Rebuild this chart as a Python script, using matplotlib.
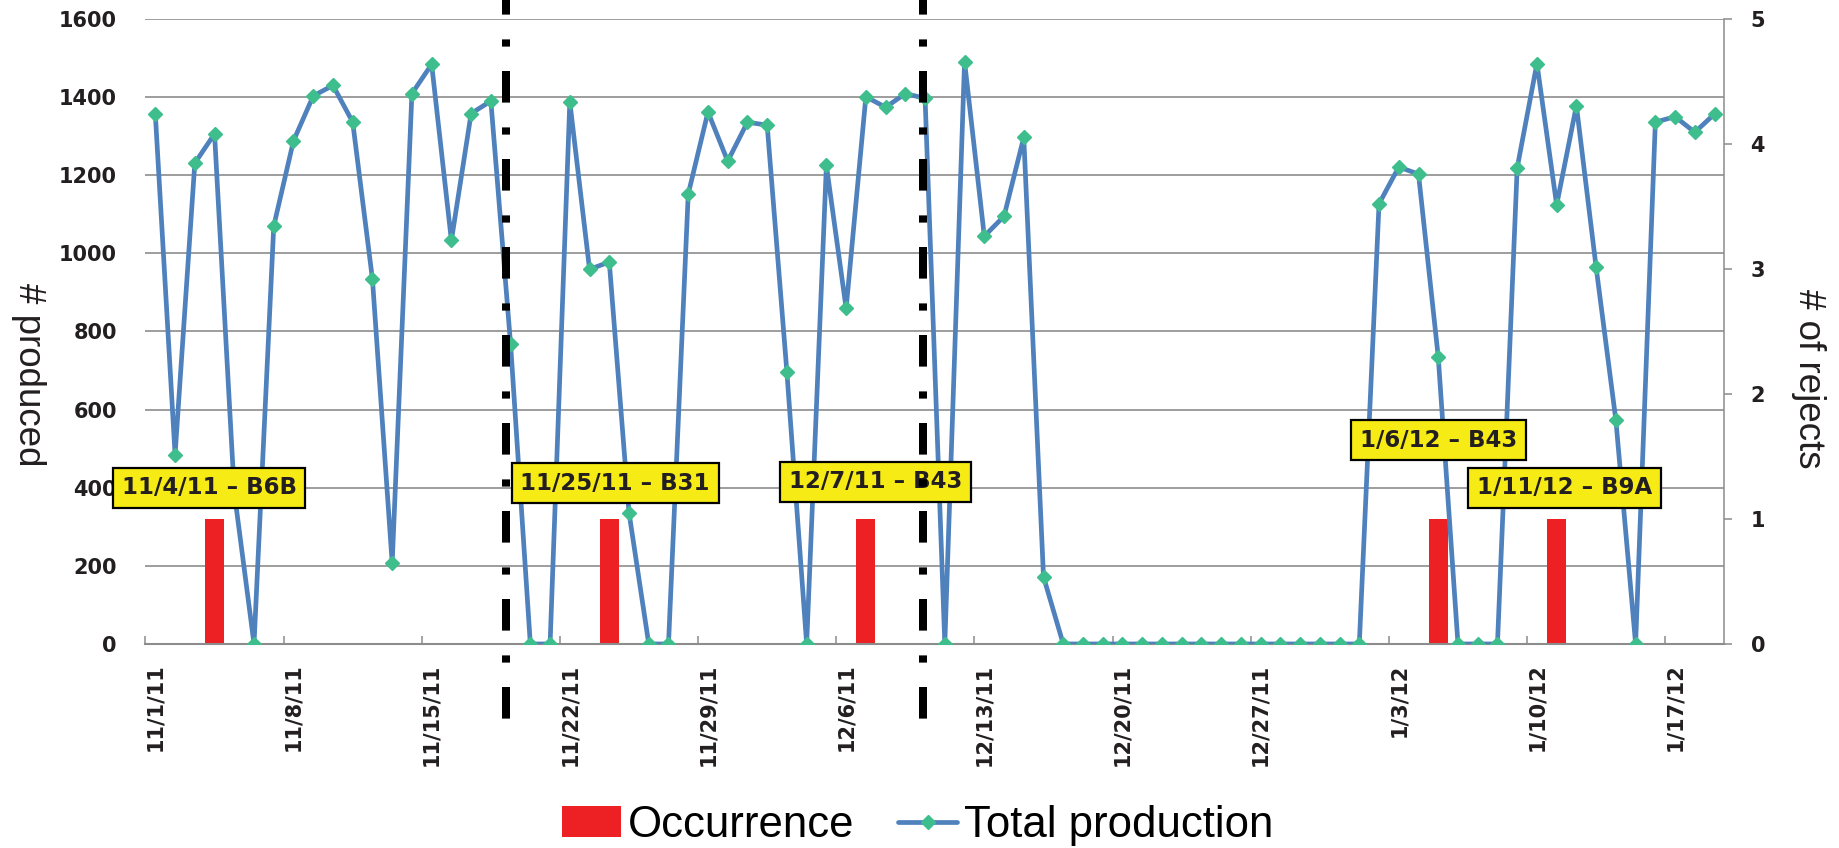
import numpy as np
import pandas as pd
import matplotlib
matplotlib.use("Agg")
import matplotlib.pyplot as plt
import matplotlib.transforms as mtransforms
from matplotlib.lines import Line2D
from matplotlib.patches import Patch

# Daily totals, 11/1/11 through 1/19/12
start_date = "2011-11-01"
total_production = [
    1356, 485, 1231, 1306, 388, 0, 1070, 1288, 1403, 1430,
    1336, 934, 207, 1409, 1484, 1033, 1358, 1390, 767, 0,
    0, 1388, 959, 978, 336, 0, 0, 1152, 1362, 1236,
    1336, 1328, 695, 0, 1225, 859, 1401, 1374, 1409, 1397,
    0, 1491, 1044, 1095, 1297, 172, 0, 0, 0, 0,
    0, 0, 0, 0, 0, 0, 0, 0, 0, 0,
    0, 0, 1127, 1221, 1203, 735, 0, 0, 0, 1219,
    1486, 1124, 1378, 964, 573, 0, 1336, 1350, 1310, 1357,
]

# Reject occurrences
occurrence_dates = ["2011-11-04", "2011-11-24", "2011-12-07", "2012-01-05", "2012-01-11"]
occurrence_counts = [1, 1, 1, 1, 1]

# Callouts: text, day offset from start, height on the production axis
callout_text = ["11/4/11 \u2013 B6B", "11/25/11 \u2013 B31", "12/7/11 \u2013 B43",
                "1/6/12 \u2013 B43", "1/11/12 \u2013 B9A"]
callout_day = [2.73, 23.3, 36.5, 65.0, 71.4]
callout_y = [400, 412, 415, 522, 400]

# Vertical dash-dot dividers (day offsets)
divider_day = [17.77, 38.9]

BLUE = "#4f81bd"
GREEN = "#3fbe8d"
RED = "#ed2024"
GRID = "#8c8c8c"
TEXT = "#231f20"

dates = pd.date_range(start_date, periods=len(total_production), freq="D")
days = np.arange(len(dates))
occ_days = [(pd.Timestamp(d) - dates[0]).days for d in occurrence_dates]

fig = plt.figure(figsize=(18.39, 8.48), dpi=100)
ax = fig.add_axes([0.0791, 0.2406, 0.8586, 0.737])
ax2 = ax.twinx()
ax.set_zorder(ax2.get_zorder() + 1)
ax.patch.set_visible(False)

prod_max = 1600
rej_max = 5
prod_ticks = np.arange(0, prod_max + 1, 200)

# gridlines live on the rejects axis so the bars sit on top of them
for v in prod_ticks:
    ax2.axhline(v / prod_max * rej_max, color=GRID, lw=1.2, zorder=0)

ax2.bar(occ_days, occurrence_counts, width=0.95, color=RED, zorder=2)
ax2.set_ylim(0, rej_max)
ax2.set_yticks(range(0, rej_max + 1), labels=[str(i) for i in range(rej_max + 1)],
               fontsize=15, fontweight="bold", color=TEXT)
ax2.tick_params(axis="y", direction="out", length=5.8, width=1.1, color=GRID, pad=13)
for side in ["top", "left", "bottom"]:
    ax2.spines[side].set_visible(False)
ax2.spines["right"].set_color(GRID)
ax2.spines["right"].set_linewidth(1.1)

ax.plot(days, total_production, color=BLUE, lw=3.4, marker="D", ms=7.5,
        mfc=GREEN, mec=GREEN, zorder=3, solid_joinstyle="round")
ax.set_xlim(-0.5, len(days) - 0.5)
ax.set_ylim(0, prod_max)
ax.set_yticks(prod_ticks, labels=[str(v) for v in prod_ticks],
              fontsize=15, fontweight="bold", color=TEXT)
ax.tick_params(axis="y", length=0, pad=20.5)

week_ticks = days[::7]
week_labels = [f"{d.month}/{d.day}/{d.strftime('%y')}" for d in dates[::7]]
ax.set_xticks(week_ticks, labels=week_labels, rotation=90,
              fontsize=15, fontweight="bold", color=TEXT)
ax.set_xticks(np.arange(-0.5, len(days), 7), minor=True)
ax.tick_params(axis="x", which="major", length=0, pad=14)
ax.tick_params(axis="x", which="minor", direction="in", length=5.8, width=1.1, color=GRID)
for side in ["top", "left", "right"]:
    ax.spines[side].set_visible(False)
ax.spines["bottom"].set_color(GRID)
ax.spines["bottom"].set_linewidth(1.5)

for text, x, y in zip(callout_text, callout_day, callout_y):
    ax.text(x, y, text, ha="center", va="center", fontsize=16.5, fontweight="bold",
            color=TEXT, zorder=5,
            bbox=dict(boxstyle="square,pad=0.38", fc="#f6eb14", ec="black", lw=1.6))

trans = mtransforms.blended_transform_factory(ax.transData, ax.transAxes)
for x in divider_day:
    ax.plot([x, x], [1.032, -0.12], transform=trans, clip_on=False, color="black",
            lw=5.76, linestyle=(2.0, (3.95, 3.1, 0.9, 3.05)), zorder=6)

label_font = dict(family="Liberation Sans", size=26.5, color=TEXT)
ax.set_ylabel("# produced", rotation=270, ha="center", va="center", **label_font)
ax.yaxis.set_label_coords(-0.0738, 0.430)
ax2.set_ylabel("# of rejects", rotation=270, ha="center", va="center", **label_font)
ax2.yaxis.set_label_coords(1.0535, 0.425)

handles = [
    Patch(facecolor=RED, edgecolor="none"),
    Line2D([], [], color=BLUE, lw=3.4, marker="D", ms=7.5, mfc=GREEN, mec=GREEN,
           solid_capstyle="round"),
]
fig.legend(handles, ["Occurrence", "Total production"], loc="center",
           bbox_to_anchor=(0.499, 0.0265), ncol=2, frameon=False,
           prop=dict(family="Liberation Sans", size=31.5),
           handlelength=1.35, handletextpad=0.15, columnspacing=1.0, borderaxespad=0)

fig.savefig("out.png", dpi=100, facecolor="white")
